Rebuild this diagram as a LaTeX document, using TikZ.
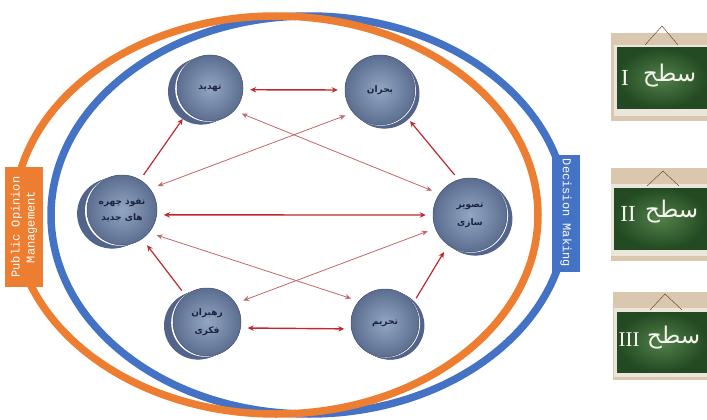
\documentclass[tikz,border=0pt]{standalone}
\usepackage{fontspec}
\usetikzlibrary{arrows.meta}
\TeXXeTstate=1
\newfontfamily\arabicfont[Script=Arabic]{DejaVu Sans}
\newfontfamily\monofont{Liberation Mono}
\newfontfamily\romanfont{Liberation Serif}
\newcommand\fatext[1]{{\arabicfont\beginR #1\endR}}
\definecolor{orng}{HTML}{ED7D31}
\definecolor{blu}{HTML}{4472C4}
\definecolor{arrred}{HTML}{C0282D}
\definecolor{thinred}{HTML}{C46666}
\definecolor{faceIn}{HTML}{93A6C2}
\definecolor{faceOut}{HTML}{5B6E90}
\definecolor{sidec}{HTML}{52648A}
\definecolor{navy}{HTML}{1B2440}
\definecolor{tanc}{HTML}{D9C8AF}
\definecolor{chalkIn}{HTML}{52804A}
\definecolor{chalkOut}{HTML}{234A22}
\definecolor{boardedge}{HTML}{ECE6DA}
\definecolor{chalk}{HTML}{F4F4EC}
\tikzset{
  coinface/.style={circle, draw=faceOut!80!black, line width=0.5pt, shade, inner color=faceIn, outer color=faceOut,
    text=navy, align=center, font=\arabicfont\bfseries\fontsize{9}{12}\selectfont, inner sep=0pt},
  bigarrow/.style={arrred, line width=1.4pt, {Stealth[length=6pt,width=5.5pt]}-{Stealth[length=6pt,width=5.5pt]}, shorten <=7pt, shorten >=7pt},
  onearrow/.style={arrred, line width=1.2pt, -{Stealth[length=6pt,width=5.5pt]}, shorten <=6pt, shorten >=8pt},
  thinarrow/.style={thinred, line width=0.8pt, {Stealth[length=6pt,width=5pt]}-{Stealth[length=6pt,width=5pt]}, shorten <=8pt, shorten >=8pt},
  ring/.style={line width=7.5pt},
  labelbox/.style={text=white, align=center, inner sep=0pt, font=\monofont\fontsize{12}{15}\selectfont},
  numeral/.style={text=chalk, font=\romanfont\fontsize{23}{25}\selectfont, inner sep=0pt},
  arlabel/.style={text=chalk, font=\arabicfont\fontsize{23}{25}\selectfont, inner sep=0pt, anchor=west},
  hang/.style={draw=brown!60!black, line width=0.5pt}
}
\newcommand\mycoin[7]{%
  \foreach \t in {0,0.1,...,1.0}{\fill[sidec] ({#2+(#5)*\t},{#3+(#6)*\t}) circle (#4);}
  \fill[white] ({#2+(#5)*0.18},{#3+(#6)*0.18}) circle (#4);
  \node[coinface, minimum size=#4*2pt] (#1) at (#2,#3) {#7};
}
\begin{document}
\begin{tikzpicture}[x=1pt,y=-1pt]
\useasboundingbox (0,0) rectangle (707,420);
\clip (0,0) rectangle (707,420);
\fill[white] (0,0) rectangle (707,420);
% rings
\draw[ring, blu] (309,215) ellipse (258 and 199);
\draw[ring, orng] (276,215) ellipse (262 and 199);
% side labels
\node[labelbox, fill=orng, rotate=90, minimum width=120pt, minimum height=38pt] (pom) at (24,227) {Public Opinion\\Management};
\node[labelbox, fill=blu, rotate=-90, minimum width=117pt, minimum height=28pt] (dm) at (566,213) {Decision Making};
% coins
\mycoin{tahdid}{210}{88}{33}{-10}{4}{\fatext{تهدید}}
\mycoin{bohran}{380}{90}{35}{5}{4}{\fatext{بحران}}
\mycoin{nofuz}{122}{210}{35}{-11}{4}{\fatext{نفوذ چهره}\\[4pt]\fatext{های جدید}}
\mycoin{tasvir}{470}{215}{37}{6}{4}{\fatext{تصویر}\\[6pt]\fatext{سازی}}
\mycoin{rahbaran}{207}{322}{34}{-10}{4}{\fatext{رهبران}\\[6pt]\fatext{فکری}}
\mycoin{tahrim}{385}{323}{34}{6}{3}{\fatext{تحریم}}
% connectors
\draw[bigarrow] (tahdid.-3) -- (bohran.west);
\draw[bigarrow] (nofuz.-8) -- (tasvir.west);
\draw[bigarrow] (rahbaran.-10) -- (tahrim.190);
\draw[onearrow] (nofuz.59) -- (tahdid.-133);
\draw[onearrow] (tasvir.108) -- (bohran.-45);
\draw[onearrow] (tahrim.35) -- (tasvir.-126);
\draw[onearrow] (rahbaran.129) -- (nofuz.-55);
\draw[thinarrow] (tahdid.-43) -- (tasvir.145);
\draw[thinarrow] (bohran.-140) -- (nofuz.37);
\draw[thinarrow] (nofuz.-40) -- (tahrim.140);
\draw[thinarrow] (tasvir.-159) -- (rahbaran.33);
% boards
\fill[tanc] (611,33) rectangle (707,121);
\fill[boardedge] (614,45) rectangle (707,116);
\shade[inner color=chalkIn, outer color=chalkOut] (617,48) rectangle (707,108);
\draw[hang] (645,45) -- (662,26) -- (678,45);
\node[numeral] (n1) at (625,78) {I};
\node[arlabel] (a1) at (643,76) {\beginR سطح\endR};

\fill[tanc] (611,168) rectangle (707,261);
\fill[boardedge] (611,184) rectangle (707,256);
\shade[inner color=chalkIn, outer color=chalkOut] (614,188) rectangle (707,249);
\draw[hang] (647,186) -- (663,171) -- (679,186);
\node[numeral] (n2) at (628,214) {II};
\node[arlabel] (a2) at (645,212) {\beginR سطح\endR};

\fill[tanc] (613,292) rectangle (707,380);
\fill[boardedge] (614,308) rectangle (707,377);
\shade[inner color=chalkIn, outer color=chalkOut] (617,312) rectangle (707,372);
\draw[hang] (650,310) -- (665,294) -- (682,310);
\node[numeral, font=\romanfont\fontsize{21}{23}\selectfont] (n3) at (629,340) {III};
\node[arlabel] (a3) at (647,338) {\beginR سطح\endR};
\end{tikzpicture}
\end{document}
